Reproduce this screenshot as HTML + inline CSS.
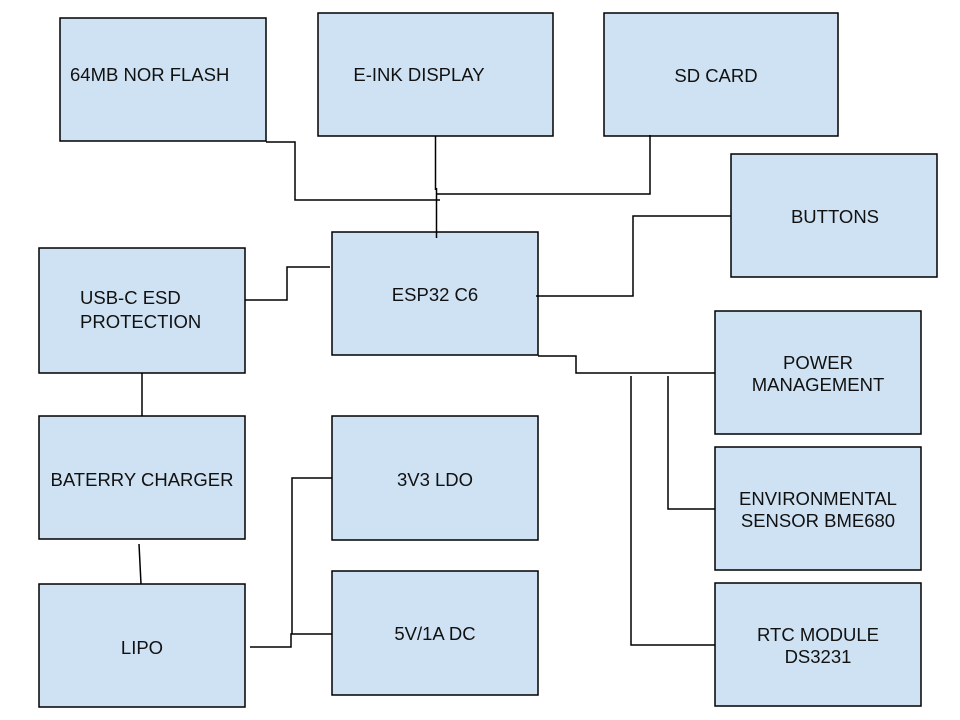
<!DOCTYPE html>
<html><head><style>
html,body{margin:0;padding:0;background:#fff;}
svg{display:block;}
text{font-family:"Liberation Sans",Arial,sans-serif;font-size:18.5px;fill:#111;}
</style></head><body>
<svg width="960" height="720" viewBox="0 0 960 720" xmlns="http://www.w3.org/2000/svg">
<g fill="#cfe2f3" stroke="#000" stroke-width="1.5">
<rect x="60" y="18" width="206" height="123"/>
<rect x="318" y="13" width="235" height="123"/>
<rect x="604" y="13" width="234" height="123"/>
<rect x="731" y="154" width="206" height="123"/>
<rect x="39" y="248" width="206" height="125"/>
<rect x="332" y="232" width="206" height="123"/>
<rect x="715" y="311" width="206" height="123"/>
<rect x="715" y="447" width="206" height="123"/>
<rect x="715" y="583" width="206" height="123"/>
<rect x="39" y="416" width="206" height="123"/>
<rect x="39" y="584" width="206" height="123"/>
<rect x="332" y="416" width="206" height="124"/>
<rect x="332" y="571" width="206" height="124"/>
</g>
<g fill="none" stroke="#000" stroke-width="1.5">
<polyline points="266,142 295,142 295,200 440,200"/>
<polyline points="435.5,136 435.5,190"/>
<polyline points="436.5,188 436.5,238"/>
<polyline points="650,135 650,194 436,194"/>
<polyline points="245,300 287,300 287,267 330,267"/>
<polyline points="536,296 633,296 633,216 731,216"/>
<polyline points="538,356 576,356 576,373 715,373"/>
<polyline points="631,376 631,645 715,645"/>
<polyline points="668,376 668,509 715,509"/>
<line x1="142" y1="373" x2="142" y2="416"/>
<line x1="139" y1="544" x2="141" y2="584"/>
<polyline points="250,647 291,647 291,634 332,634"/>
<polyline points="292,634 292,478 332,478"/>
</g>
<text x="70" y="81">64MB NOR FLASH</text>
<text x="419" y="81" text-anchor="middle">E-INK DISPLAY</text>
<text x="716" y="82" text-anchor="middle">SD CARD</text>
<text x="835" y="223" text-anchor="middle">BUTTONS</text>
<text x="80" y="304">USB-C ESD</text>
<text x="80" y="328">PROTECTION</text>
<text x="435" y="301" text-anchor="middle">ESP32 C6</text>
<text x="818" y="369" text-anchor="middle">POWER</text>
<text x="818" y="391" text-anchor="middle">MANAGEMENT</text>
<text x="818" y="505" text-anchor="middle">ENVIRONMENTAL</text>
<text x="818" y="527" text-anchor="middle">SENSOR BME680</text>
<text x="818" y="641" text-anchor="middle">RTC MODULE</text>
<text x="818" y="663" text-anchor="middle">DS3231</text>
<text x="142" y="486" text-anchor="middle">BATERRY CHARGER</text>
<text x="142" y="654" text-anchor="middle">LIPO</text>
<text x="435" y="486" text-anchor="middle">3V3 LDO</text>
<text x="435" y="640" text-anchor="middle">5V/1A DC</text>
</svg>
</body></html>
